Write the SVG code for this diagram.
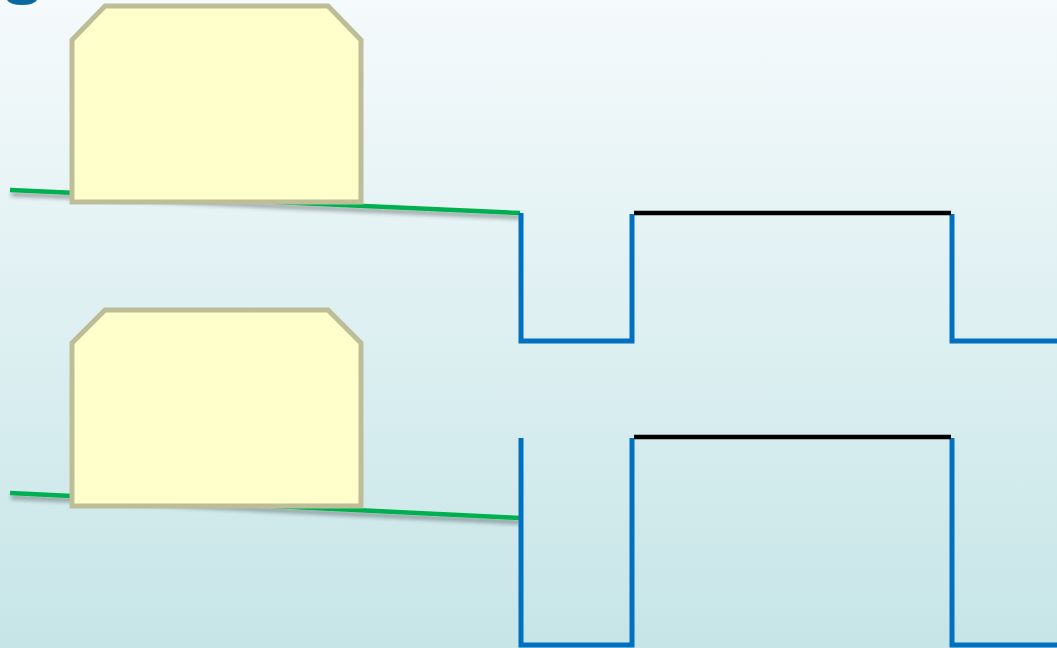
<svg xmlns="http://www.w3.org/2000/svg" width="1057" height="648" viewBox="0 0 1057 648">
<defs>
<linearGradient id="bg" x1="0" y1="0" x2="0" y2="1">
<stop offset="0" stop-color="#f5fafc"/>
<stop offset="1" stop-color="#c6e5e7"/>
</linearGradient>
<filter id="sh" x="-10%" y="-50%" width="120%" height="300%">
<feGaussianBlur in="SourceAlpha" stdDeviation="2"/>
<feOffset dx="1" dy="4"/>
<feComponentTransfer><feFuncA type="linear" slope="0.35"/></feComponentTransfer>
<feMerge><feMergeNode/><feMergeNode in="SourceGraphic"/></feMerge>
</filter>
</defs>
<style>
.box{fill:#ffffcc;stroke:#bdbd98;stroke-width:5;}
.green{stroke:#00b050;stroke-width:4.5;fill:none;}
.blue{stroke:#0070c0;stroke-width:5;fill:none;}
.black{stroke:#000;stroke-width:4.5;fill:none;}
</style>
<rect width="1057" height="648" fill="url(#bg)"/>
<path d="M7,0 L37,0 Q34,5 22,5 Q10,5 7,0 Z" fill="#0a6aa0"/>
<g id="connectors">
<line class="green" x1="10" y1="190" x2="520" y2="213" filter="url(#sh)"/>
<line class="green" x1="10" y1="493" x2="519" y2="518" filter="url(#sh)"/>
<polyline class="blue" points="521,213 521,341 632,341 632,214"/>
<polyline class="blue" points="952,214 952,341 1057,341"/>
<line class="black" x1="634" y1="213" x2="951" y2="213"/>
<polyline class="blue" points="521,438 521,645 632,645 632,438"/>
<polyline class="blue" points="952,438 952,645 1057,645"/>
<line class="black" x1="634" y1="437" x2="951" y2="437"/>
</g>
<g id="box1">
<polygon class="box" points="105,6 328,6 361,40 361,202 72,202 72,40"/>
</g>
<g id="box2">
<polygon class="box" points="105,310 328,310 361,343 361,506 72,506 72,343"/>
</g>
</svg>
